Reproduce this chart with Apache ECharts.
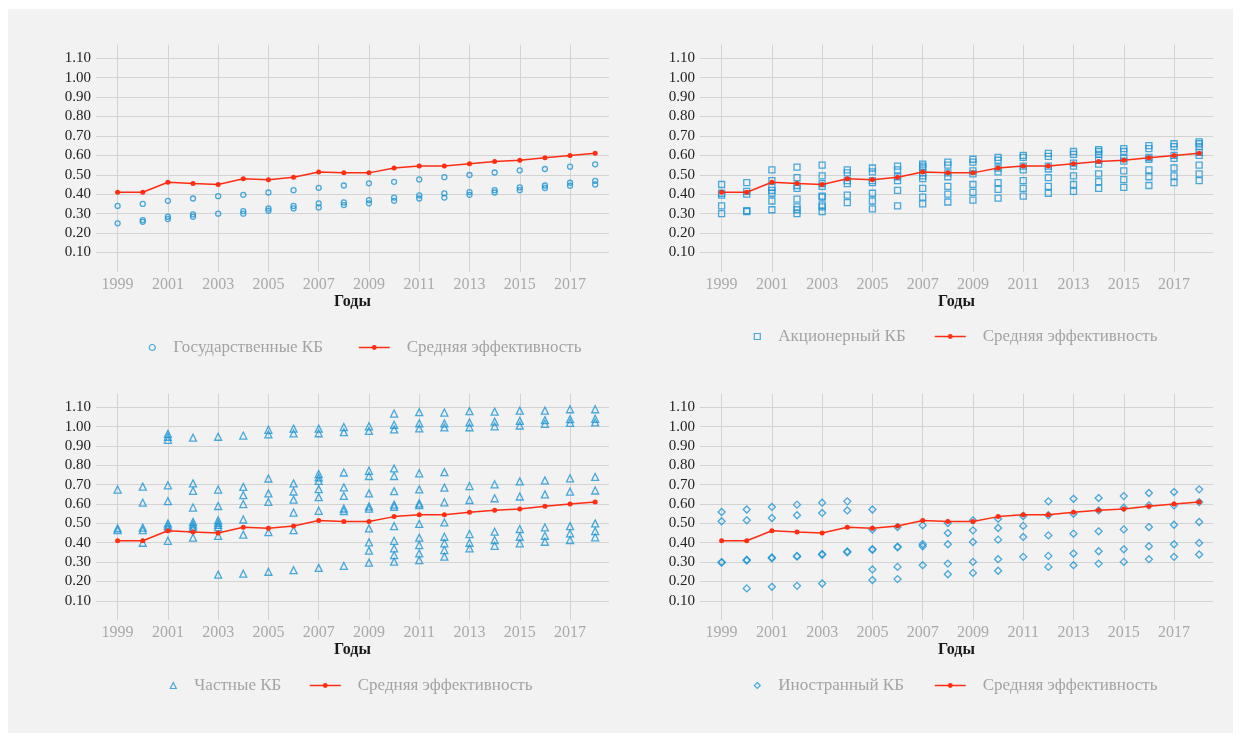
<!DOCTYPE html>
<html>
<head>
<meta charset="utf-8">
<script src="https://cdn.jsdelivr.net/npm/echarts@6/dist/echarts.min.js"></script>
<style>
html,body{margin:0;padding:0;background:#fff;}
#c{width:1242px;height:733px;}
</style>
</head>
<body>
<div id="c"></div>
<script>
const years = [1999,2000,2001,2002,2003,2004,2005,2006,2007,2008,2009,2010,2011,2012,2013,2014,2015,2016,2017,2018];
const xTickLabels = [1999,2001,2003,2005,2007,2009,2011,2013,2015,2017];
const yTickLabels = [0.1,0.2,0.3,0.4,0.5,0.6,0.7,0.8,0.9,1.0,1.1];

const avgEff = [0.41,0.41,0.462,0.455,0.45,0.48,0.475,0.487,0.515,0.51,0.51,0.535,0.545,0.545,0.557,0.568,0.575,0.588,0.60,0.611];

const gosKB = [
  [0.34,0.25],
  [0.35,0.267,0.258],
  [0.366,0.284,0.272],
  [0.378,0.296,0.284],
  [0.39,0.30],
  [0.397,0.313,0.30],
  [0.409,0.327,0.315],
  [0.421,0.34,0.327],
  [0.433,0.353,0.332],
  [0.445,0.358,0.344],
  [0.456,0.37,0.353],
  [0.464,0.383,0.366],
  [0.476,0.394,0.378],
  [0.488,0.404,0.383],
  [0.499,0.411,0.397],
  [0.512,0.421,0.409],
  [0.523,0.435,0.421],
  [0.53,0.445,0.432],
  [0.542,0.459,0.444],
  [0.554,0.469,0.45]
];

const akcKB = [
  [0.45,0.405,0.395,0.34,0.30],
  [0.46,0.415,0.40,0.315,0.31],
  [0.525,0.47,0.435,0.42,0.405,0.365,0.32],
  [0.54,0.485,0.445,0.43,0.375,0.335,0.32,0.30],
  [0.55,0.495,0.455,0.44,0.39,0.385,0.345,0.335,0.31],
  [0.525,0.51,0.47,0.455,0.395,0.357],
  [0.535,0.515,0.47,0.46,0.405,0.365,0.325],
  [0.545,0.525,0.49,0.47,0.42,0.34],
  [0.555,0.545,0.535,0.51,0.495,0.48,0.43,0.385,0.35],
  [0.565,0.55,0.51,0.49,0.44,0.40,0.36],
  [0.58,0.565,0.52,0.505,0.45,0.41,0.37],
  [0.59,0.575,0.535,0.515,0.46,0.425,0.38],
  [0.60,0.59,0.545,0.525,0.47,0.43,0.39],
  [0.61,0.595,0.545,0.53,0.485,0.44,0.405],
  [0.62,0.605,0.56,0.545,0.495,0.45,0.415],
  [0.63,0.62,0.605,0.575,0.555,0.505,0.465,0.43],
  [0.635,0.62,0.585,0.57,0.52,0.475,0.435],
  [0.65,0.635,0.59,0.58,0.525,0.49,0.445],
  [0.66,0.645,0.60,0.585,0.535,0.495,0.46],
  [0.67,0.66,0.645,0.615,0.60,0.55,0.505,0.47]
];

const chastKB = [
  [0.675,0.475,0.465],
  [0.69,0.607,0.478,0.465,0.40],
  [0.963,0.948,0.932,0.697,0.615,0.50,0.488,0.476,0.41],
  [0.943,0.707,0.668,0.582,0.508,0.495,0.483,0.472,0.426],
  [0.948,0.675,0.59,0.516,0.503,0.492,0.48,0.435,0.235],
  [0.954,0.689,0.646,0.60,0.52,0.442,0.24],
  [0.984,0.96,0.732,0.655,0.611,0.455,0.25],
  [0.99,0.965,0.707,0.665,0.623,0.556,0.465,0.258],
  [0.99,0.966,0.755,0.738,0.72,0.677,0.636,0.565,0.27],
  [0.998,0.972,0.763,0.686,0.642,0.577,0.564,0.28],
  [1.002,0.978,0.772,0.745,0.655,0.588,0.576,0.474,0.402,0.359,0.297],
  [1.068,1.01,0.986,0.784,0.745,0.667,0.597,0.586,0.486,0.41,0.371,0.336,0.302],
  [1.075,1.017,0.991,0.759,0.676,0.604,0.595,0.497,0.426,0.388,0.345,0.31],
  [1.073,1.017,0.996,0.765,0.685,0.609,0.505,0.431,0.397,0.362,0.328],
  [1.08,1.022,0.997,0.693,0.621,0.445,0.40,0.371],
  [1.078,1.026,1.002,0.702,0.63,0.457,0.414,0.384],
  [1.083,1.03,1.006,0.717,0.639,0.471,0.431,0.397],
  [1.083,1.034,1.015,0.722,0.65,0.479,0.436,0.405],
  [1.09,1.039,1.02,0.733,0.664,0.486,0.448,0.414],
  [1.09,1.041,1.022,0.74,0.67,0.50,0.46,0.428]
];

const inoKB = [
  [0.559,0.511,0.30,0.297],
  [0.572,0.516,0.312,0.308,0.164],
  [0.585,0.528,0.324,0.32,0.172],
  [0.597,0.542,0.332,0.328,0.177],
  [0.607,0.554,0.342,0.338,0.189],
  [0.614,0.567,0.355,0.351],
  [0.572,0.468,0.367,0.363,0.262,0.207],
  [0.481,0.38,0.376,0.275,0.212],
  [0.49,0.392,0.382,0.284],
  [0.502,0.45,0.392,0.292,0.237],
  [0.516,0.464,0.404,0.301,0.244],
  [0.524,0.476,0.416,0.315,0.255],
  [0.538,0.487,0.43,0.327],
  [0.614,0.542,0.438,0.332,0.275],
  [0.627,0.55,0.447,0.344,0.284],
  [0.631,0.567,0.459,0.356,0.292],
  [0.641,0.581,0.469,0.366,0.301],
  [0.657,0.593,0.481,0.382,0.315],
  [0.662,0.593,0.493,0.392,0.327],
  [0.676,0.61,0.507,0.399,0.339]
];

const groupNames = ['Государственные КБ','Акционерный КБ','Частные КБ','Иностранный КБ'];
const avgName = 'Средняя эффективность';
const xName = 'Годы';

const BLUE = '#1b95d6';
const RED = '#ff2d12';
const FONT = '"Liberation Serif", "Times New Roman", serif';

const panels = [
  {data: gosKB,   name: groupNames[0], symbol: 'circle',   size: 5, grid: {left: 96,  top: 44.7,  width: 513, height: 227.2}, leg: {top: 339, l1: 148.7, l2: 358}},
  {data: akcKB,   name: groupNames[1], symbol: 'rect',     size: 6, grid: {left: 700, top: 44.7,  width: 513, height: 227.2}, leg: {top: 328, l1: 753.7, l2: 934}},
  {data: chastKB, name: groupNames[2], symbol: 'triangle', size: 7, grid: {left: 96,  top: 393.8, width: 513, height: 226.3}, leg: {top: 677, l1: 169.7, l2: 309}},
  {data: inoKB,   name: groupNames[3], symbol: 'diamond',  size: 7, grid: {left: 700, top: 393.8, width: 513, height: 226.3}, leg: {top: 677, l1: 753.7, l2: 934}}
];

function toPoints(arr) {
  const out = [];
  arr.forEach((vals, i) => vals.forEach(v => out.push([years[i], v])));
  return out;
}

const grids = [], xAxes = [], yAxes = [], series = [], legends = [];
panels.forEach((p, i) => {
  grids.push(Object.assign({containLabel: false}, p.grid));
  xAxes.push({
    type: 'value', gridIndex: i, min: 1998.14, max: 2018.55,
    name: xName, nameLocation: 'middle', nameGap: 19,
    nameTextStyle: {color: '#1a1a1a', fontSize: 16, fontWeight: 'bold', fontFamily: FONT},
    axisLine: {show: false}, axisTick: {show: false, customValues: xTickLabels},
    axisLabel: {customValues: xTickLabels, color: '#a9a9a9', fontSize: 16, fontFamily: FONT, margin: 5, formatter: v => String(v)},
    splitLine: {show: true, lineStyle: {color: '#d3d3d3', width: 1}}
  });
  yAxes.push({
    type: 'value', gridIndex: i, min: 0, max: 1.17,
    axisLine: {show: false}, axisTick: {show: false, customValues: yTickLabels},
    axisLabel: {customValues: yTickLabels, color: '#222', fontSize: 15, fontFamily: FONT, margin: 5, formatter: v => v.toFixed(2)},
    splitLine: {show: true, lineStyle: {color: '#d3d3d3', width: 1}}
  });
  series.push({
    type: 'scatter', name: p.name, xAxisIndex: i, yAxisIndex: i,
    symbol: p.symbol, symbolSize: p.size,
    itemStyle: {color: 'rgba(0,0,0,0)', borderColor: BLUE, borderWidth: 1.3},
    data: toPoints(p.data), z: 2
  });
  series.push({
    type: 'line', name: avgName, xAxisIndex: i, yAxisIndex: i,
    symbol: 'circle', symbolSize: 5, showSymbol: true,
    itemStyle: {color: RED}, lineStyle: {color: RED, width: 1.5},
    data: avgEff.map((v, k) => [years[k], v]), z: 3
  });
  legends.push({
    data: [p.name], left: p.leg.l1, top: p.leg.top, padding: 0,
    itemWidth: 6, itemHeight: 6, selectedMode: false,
    itemStyle: {color: 'rgba(0,0,0,0)', borderColor: BLUE, borderWidth: 1.2},
    textStyle: {color: '#a3a3a3', fontSize: 17, fontFamily: FONT, padding: [0, 0, 0, 13]}
  });
  legends.push({
    data: [avgName], left: p.leg.l2, top: p.leg.top, padding: 0,
    itemWidth: 31, itemHeight: 6, selectedMode: false,
    itemStyle: {color: RED, borderWidth: 0},
    lineStyle: {color: RED, width: 1.5},
    textStyle: {color: '#a3a3a3', fontSize: 17, fontFamily: FONT, padding: [0, 0, 0, 12]}
  });
});

const chart = echarts.init(document.getElementById('c'));
chart.setOption({
  backgroundColor: '#ffffff',
  animation: false,
  textStyle: {fontFamily: FONT},
  graphic: [{type: 'rect', silent: true, z: -10, shape: {x: 8, y: 9, width: 1225, height: 724}, style: {fill: '#f2f2f2'}}],
  grid: grids, xAxis: xAxes, yAxis: yAxes, series: series, legend: legends
});
</script>
</body>
</html>
